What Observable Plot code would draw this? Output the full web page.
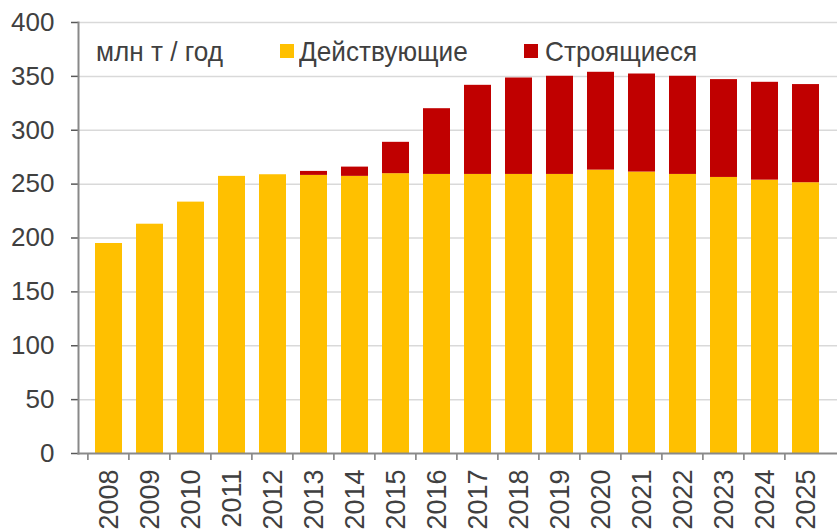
<!DOCTYPE html>
<html>
<head>
<meta charset="utf-8">
<script src="https://cdn.jsdelivr.net/npm/d3@7"></script>
<script src="https://cdn.jsdelivr.net/npm/@observablehq/plot@0.6"></script>
<style>
  html, body { margin: 0; padding: 0; background: #fff; }
  #wrap { position: relative; width: 837px; height: 529px; overflow: hidden; font-family: "Liberation Sans", Arial, sans-serif; color: #404040; }
  .lg { position: absolute; font-size: 28px; line-height: 1; white-space: nowrap; transform: scaleX(0.935); transform-origin: 0 0; }
  .sw { position: absolute; width: 14px; height: 14px; }
</style>
</head>
<body>
<div id="wrap"></div>
<script>
const years = ["2008","2009","2010","2011","2012","2013","2014","2015","2016","2017","2018","2019","2020","2021","2022","2023","2024","2025"];
const operating = [194.9, 212.8, 233.3, 257.2, 258.7, 258.1, 257.2, 259.7, 259, 259, 259, 259, 263, 261.2, 259, 256.2, 253.7, 251.3];
const construction = [0, 0, 0, 0, 0, 3.7, 8.6, 29.1, 61, 82.7, 89.5, 91.1, 90.8, 91, 91.1, 90.8, 90.8, 91.1];
const seriesNames = ["Действующие", "Строящиеся"];
const seriesColors = ["#FFC000", "#C00000"];
const unitLabel = "млн т / год";
const yTicks = [0, 50, 100, 150, 200, 250, 300, 350, 400];

const rows = [];
years.forEach((y, i) => {
  rows.push({year: y, series: seriesNames[0], value: operating[i]});
  rows.push({year: y, series: seriesNames[1], value: construction[i]});
});

const W = 837, H = 529, mL = 78, mR = 0;
const step = (W - mL - mR) / years.length;

const chart = Plot.plot({
  width: W, height: H,
  marginLeft: mL, marginRight: mR, marginTop: 22, marginBottom: 76,
  style: {fontFamily: "'Liberation Sans', Arial, sans-serif", fontSize: "26px", color: "#404040", background: "#fff"},
  x: {domain: years, padding: 0.33, label: null},
  y: {domain: [0, 400], label: null},
  color: {domain: seriesNames, range: seriesColors},
  marks: [
    Plot.gridY(yTicks.filter(d => d > 0), {stroke: "#d9d9d9", strokeOpacity: 1, strokeWidth: 1.5}),
    Plot.barY(rows, {x: "year", y: "value", fill: "series", order: seriesNames}),
    Plot.axisY(yTicks, {tickSize: 7, tickPadding: 17, stroke: "#595959", strokeWidth: 1.5, fill: "#404040", fontSize: 26, label: null}),
    Plot.axisX({tickSize: 7, dx: -step / 2, stroke: "#595959", strokeWidth: 1.2, text: null, label: null}),
    Plot.axisX({tickSize: 0, tickPadding: 16, tickRotate: -90, fill: "#404040", fontSize: 27, label: null}),
    Plot.frame({anchor: "left", stroke: "#898989", strokeWidth: 2}),
    Plot.frame({anchor: "bottom", stroke: "#898989", strokeWidth: 2})
  ]
});

const wrap = document.getElementById("wrap");
wrap.appendChild(chart);

function addText(txt, left, top) {
  const d = document.createElement("div");
  d.className = "lg"; d.textContent = txt;
  d.style.left = left + "px"; d.style.top = top + "px";
  wrap.appendChild(d);
}
function addSwatch(color, left, top) {
  const d = document.createElement("div");
  d.className = "sw"; d.style.background = color;
  d.style.left = left + "px"; d.style.top = top + "px";
  wrap.appendChild(d);
}
addText(unitLabel, 96, 38);
addSwatch(seriesColors[0], 280, 44);
addText(seriesNames[0], 299, 38);
addSwatch(seriesColors[1], 524, 44);
addText(seriesNames[1], 545, 38);
</script>
</body>
</html>
